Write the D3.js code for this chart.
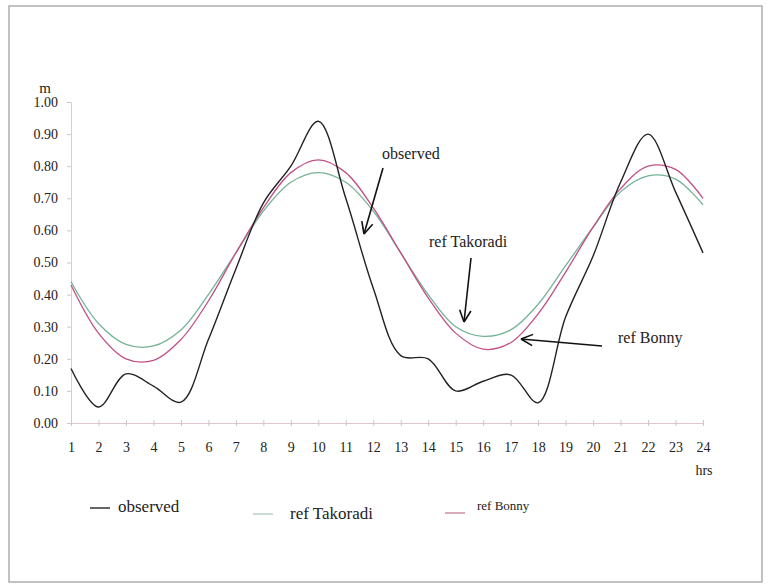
<!DOCTYPE html>
<html>
<head>
<meta charset="utf-8">
<script src="https://cdn.jsdelivr.net/npm/d3@7"></script>
<style>
  body { margin: 0; background: #fff; }
  text { font-family: "Liberation Serif", "DejaVu Serif", serif; fill: #222; }
</style>
</head>
<body>
<div id="chart"></div>
<script>
// hourly tide levels (m)
var hours = d3.range(1, 25)
var observed = [0.17, 0.05, 0.153, 0.115, 0.065, 0.26, 0.48, 0.685, 0.80, 0.94, 0.70, 0.42,
                0.21, 0.20, 0.10, 0.13, 0.15, 0.063, 0.33, 0.52, 0.75, 0.90, 0.72, 0.53]
var refTakoradi = [0.44, 0.31, 0.245, 0.24, 0.29, 0.40, 0.53, 0.66, 0.75, 0.78, 0.75, 0.66,
                   0.53, 0.40, 0.30, 0.27, 0.29, 0.37, 0.49, 0.61, 0.72, 0.77, 0.76, 0.68]
var refBonny = [0.43, 0.28, 0.20, 0.195, 0.26, 0.38, 0.53, 0.67, 0.78, 0.82, 0.78, 0.67,
                0.53, 0.39, 0.28, 0.23, 0.25, 0.34, 0.47, 0.61, 0.73, 0.80, 0.79, 0.70]
var yTicks = [0, 0.1, 0.2, 0.3, 0.4, 0.5, 0.6, 0.7, 0.8, 0.9, 1.0]

var width = 772
var height = 586

var svg = d3.select("#chart")
  .append("svg")
  .attr("width", width)
  .attr("height", height)

// outer frame
svg.append("rect")
  .attr("x", 9).attr("y", 6)
  .attr("width", 753).attr("height", 576)
  .attr("fill", "#fff")
  .attr("stroke", "#9a9a9a")
  .attr("stroke-width", 1.2)

var x = d3.scaleLinear().domain([1, 24]).range([71, 703])
var y = d3.scaleLinear().domain([0, 1]).range([423, 102])

// y axis
var yAxis = svg.append("g")
  .attr("transform", "translate(" + x(1) + ",0)")
  .call(d3.axisLeft(y).tickValues(yTicks).tickFormat(d3.format(".2f")).tickSize(4).tickPadding(9))
yAxis.select(".domain").attr("stroke", "#d6d0d0")
yAxis.selectAll(".tick line").attr("stroke", "#cfc8c8")
yAxis.selectAll(".tick text").attr("font-size", 14).attr("font-family", "Liberation Serif").attr("fill", "#222")

// x axis
var xAxis = svg.append("g")
  .attr("transform", "translate(0," + y(0) + ")")
  .call(d3.axisBottom(x).tickValues(hours).tickFormat(d3.format("d")).tickSizeInner(3).tickSizeOuter(0).tickPadding(16))
xAxis.select(".domain").attr("stroke", "#dcc8cc")
xAxis.selectAll(".tick line").attr("y1", -3).attr("stroke", "#cfc4c6")
xAxis.selectAll(".tick text").attr("font-size", 14).attr("font-family", "Liberation Serif").attr("fill", "#222")

// unit labels
svg.append("text").attr("x", 45).attr("y", 93).attr("text-anchor", "middle")
  .attr("font-size", 15).text("m")
svg.append("text").attr("x", 704).attr("y", 475).attr("text-anchor", "middle")
  .attr("font-size", 14).text("hrs")

// series lines
var series = [
  { name: "ref Takoradi", values: refTakoradi, color: "#74b395", width: 1.3 },
  { name: "ref Bonny", values: refBonny, color: "#c24f86", width: 1.3 },
  { name: "observed", values: observed, color: "#222", width: 1.4 }
]

var line = d3.line()
  .x(function(d, i) { return x(hours[i]) })
  .y(function(d) { return y(d) })
  .curve(d3.curveCatmullRom.alpha(0.5))

svg.selectAll(".series")
  .data(series)
  .enter().append("path")
  .attr("class", "series")
  .attr("d", function(s) { return line(s.values) })
  .attr("fill", "none")
  .attr("stroke", function(s) { return s.color })
  .attr("stroke-width", function(s) { return s.width })

// annotations with arrows
function arrow(x1, y1, x2, y2) {
  svg.append("line")
    .attr("x1", x1).attr("y1", y1).attr("x2", x2).attr("y2", y2)
    .attr("stroke", "#111").attr("stroke-width", 1.6)
  var a = Math.atan2(y2 - y1, x2 - x1)
  var len = 13, spread = 0.45
  ;[a + Math.PI - spread, a + Math.PI + spread].forEach(function(b) {
    svg.append("line")
      .attr("x1", x2).attr("y1", y2)
      .attr("x2", x2 + len * Math.cos(b)).attr("y2", y2 + len * Math.sin(b))
      .attr("stroke", "#111").attr("stroke-width", 1.6)
  })
}

svg.append("text").attr("x", 382).attr("y", 159).attr("font-size", 16).text("observed")
arrow(383, 168, 364, 234)

svg.append("text").attr("x", 429).attr("y", 247).attr("font-size", 16).text("ref Takoradi")
arrow(471, 258, 464, 322)

svg.append("text").attr("x", 618).attr("y", 343).attr("font-size", 16).text("ref Bonny")
arrow(602, 346, 521, 339)

// legend
var legend = [
  { label: "observed", color: "#333", lx: 90, ly: 508, tx: 118, ty: 512, size: 17 },
  { label: "ref Takoradi", color: "#b9cfc6", lx: 253, ly: 514, tx: 290, ty: 519, size: 17 },
  { label: "ref Bonny", color: "#c98ea3", lx: 445, ly: 513, tx: 477, ty: 510, size: 13 }
]
var lg = svg.selectAll(".legend").data(legend).enter().append("g")
lg.append("line")
  .attr("x1", function(d) { return d.lx }).attr("x2", function(d) { return d.lx + 20 })
  .attr("y1", function(d) { return d.ly }).attr("y2", function(d) { return d.ly })
  .attr("stroke", function(d) { return d.color }).attr("stroke-width", 1.5)
lg.append("text")
  .attr("x", function(d) { return d.tx }).attr("y", function(d) { return d.ty })
  .attr("font-size", function(d) { return d.size })
  .text(function(d) { return d.label })
</script>
</body>
</html>
